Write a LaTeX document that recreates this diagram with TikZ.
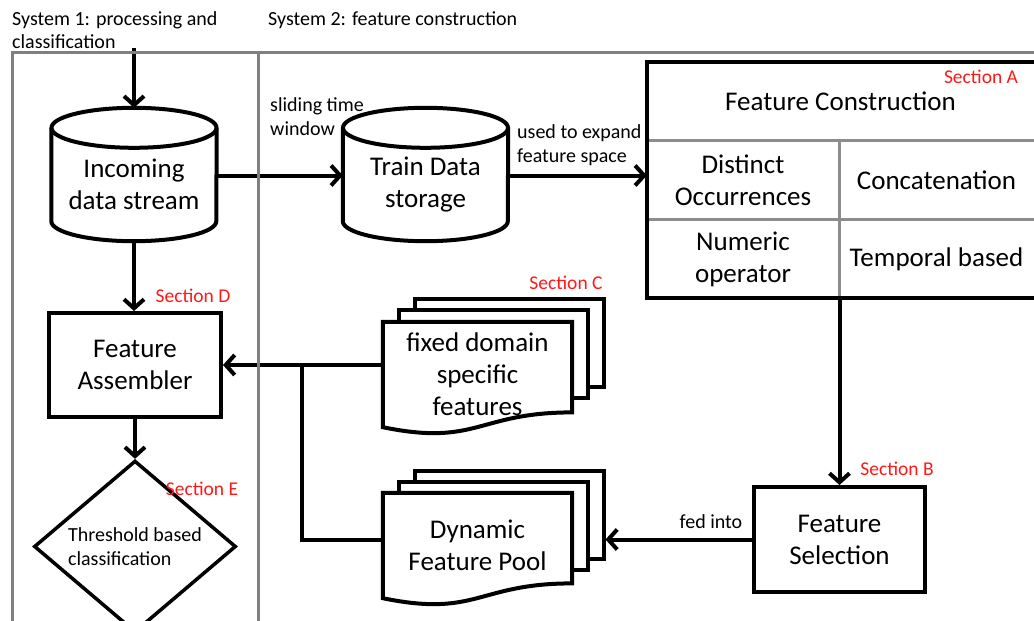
\documentclass[tikz,border=0pt]{standalone}
\usepackage{fontspec}
\setmainfont{Carlito}
\usetikzlibrary{shapes.geometric,arrows.meta,backgrounds}
\definecolor{secred}{RGB}{255,25,25}
\definecolor{framegray}{RGB}{128,128,128}
\definecolor{gridgray}{RGB}{140,140,140}
\begin{document}
\begin{tikzpicture}[x=1pt,y=-1pt,
  mainf/.style={font=\fontsize{27}{32}\selectfont},
  smallf/.style={font=\fontsize{20}{24}\selectfont},
  titlef/.style={font=\fontsize{20}{23}\selectfont},
  sec/.style={font=\fontsize{19.5}{24}\selectfont, text=secred, inner sep=0pt},
  blk/.style={line width=4pt, draw=black},
  arr/.style={line width=4pt, draw=black, -{Straight Barb[length=9pt,width=20pt]}},
  cylbox/.style={mainf, inner sep=0pt, align=center, minimum width=165pt, minimum height=113pt},
  boxnode/.style={mainf, draw, line width=4pt, inner sep=0pt, align=center},
  cellnode/.style={mainf, inner sep=0pt, align=center},
  sheet/.style={draw, line width=4pt, fill=white, inner sep=0pt, minimum width=189pt, minimum height=88pt},
  docfront/.style={mainf, inner sep=0pt, align=center, minimum width=189pt, minimum height=105pt},
  framel/.style={draw=framegray, line width=3pt},
  gridl/.style={draw=gridgray, line width=3pt}
]
\useasboundingbox (0,0) rectangle (1034,621);
\clip (0,0) rectangle (1034,621);
\begin{scope}[on background layer]
  \fill[white] (0,0) rectangle (1034,621);
\end{scope}

% titles
\node[titlef, anchor=base west, align=left, inner sep=0pt] (t1) at (12,48) {System 1: processing and\\classification};
\node[titlef, anchor=base west, inner sep=0pt] (t2) at (268,25) {System 2: feature construction};

% cylinders
\node[cylbox] (in) at (134,184.5) {Incoming\\data stream};
\draw[blk] (in.north west) -- ([yshift=20pt]in.south west)
  arc[start angle=180, end angle=360, x radius=82.5pt, y radius=20pt] -- (in.north east);
\draw[blk] (in.north) ellipse[x radius=82.5pt, y radius=20pt];

\node[cylbox] (tr) at (425.5,184.5) {Train Data\\storage};
\draw[blk] (tr.north west) -- ([yshift=20pt]tr.south west)
  arc[start angle=180, end angle=360, x radius=82.5pt, y radius=20pt] -- (tr.north east);
\draw[blk] (tr.north) ellipse[x radius=82.5pt, y radius=20pt];

\node[smallf, anchor=base west, align=left, inner sep=0pt] (lsl) at (270,135) {sliding time\\window};
\node[smallf, anchor=base west, align=left, inner sep=0pt] (lus) at (517,162) {used to expand\\feature space};

% feature construction block
\node[inner sep=0pt, minimum width=393pt, minimum height=236pt] (fc) at (843.5,180) {};
\node[cellnode, minimum width=387pt, minimum height=79pt] (fct) at (840.5,101.5) {Feature Construction};
\node[cellnode, minimum width=192pt, minimum height=79pt] (c11) at (743,180.5) {Distinct\\Occurrences};
\node[cellnode, minimum width=195pt, minimum height=79pt] (c12) at (936.5,180.5) {Concatenation};
\node[cellnode, minimum width=192pt, minimum height=78pt] (c21) at (743,259) {Numeric\\operator};
\node[cellnode, minimum width=195pt, minimum height=78pt] (c22) at (936.5,259) {Temporal based};
\draw[gridl] (c11.north west) -- (c11.north west -| fc.east);
\draw[gridl] (c21.north west) -- (c21.north west -| fc.east);
\draw[gridl] (c11.north east) -- (c21.south east);
\draw[blk] (fc.north west) rectangle (fc.south east);
\node[sec] (sa) at (981,77) {Section A};

% feature selection
\node[boxnode, minimum width=171pt, minimum height=105pt] (fs) at (839.5,539.5) {Feature\\Selection};
\node[sec] (sb) at (897,469) {Section B};

% document stacks
\node[docfront] (fx1) at (477.5,374.5) {fixed domain\\specific\\features};
\node[docfront] (dp1) at (477.5,545.5) {Dynamic\\Feature Pool};
\begin{scope}[on background layer]
  \node[sheet] (fx3) at (509,343) {};
  \node[sheet] (fx2) at (493.5,354) {};
  \draw[blk, fill=white] (fx1.north west) -- (fx1.north east) -- ([yshift=14.8pt]fx1.south east)
     .. controls ([yshift=14.8pt]fx1.south) and ([yshift=-19.4pt]fx1.south) .. (fx1.south west) -- cycle;
  \node[sheet] (dp3) at (509,514.5) {};
  \node[sheet] (dp2) at (493.5,526) {};
  \draw[blk, fill=white] (dp1.north west) -- (dp1.north east) -- ([yshift=14.8pt]dp1.south east)
     .. controls ([yshift=14.8pt]dp1.south) and ([yshift=-19.4pt]dp1.south) .. (dp1.south west) -- cycle;
\end{scope}
\node[sec] (sc) at (566,283) {Section C};

% feature assembler and classification
\node[boxnode, minimum width=172pt, minimum height=104pt] (fa) at (135,365) {Feature\\Assembler};
\node[sec] (sd) at (193,296) {Section D};
\node[diamond, draw, line width=3.5pt, inner sep=0pt, minimum width=202pt, minimum height=133pt,
      smallf, align=left] (thr) at (135,546.5) {Threshold based\\classification};
\node[sec] (se) at (202,489) {Section E};

% connectors
\coordinate (src) at (134,48);
\draw[arr] (src) -- ([yshift=20pt]in.north);
\draw[arr] ([yshift=9pt]in.east) -- ([yshift=9pt]tr.west);
\draw[arr] ([yshift=9pt]tr.east) -- ([yshift=9pt]tr.east -| fc.west);
\draw[arr] (in.south) -- (in.south |- fa.north);
\draw[arr] (fa.south) -- (fa.south |- thr.north);
\draw[arr] (fs.north |- fc.south) -- (fs.north);
\draw[arr] (fs.west) -- (fs.west -| dp3.east) node[pos=0.28, above, yshift=6pt, smallf] (lfed) {fed into};
\coordinate (j) at (302,365);
\draw[blk] (fs.west -| dp1.west) -| (j);
\draw[arr] (fa.east -| fx1.west) -- (fa.east);

% frame
\draw[framel] (1040,52) -- (12,52) -- (12,630);
\draw[framel] (258,52) -- (258,630);
\end{tikzpicture}
\end{document}
